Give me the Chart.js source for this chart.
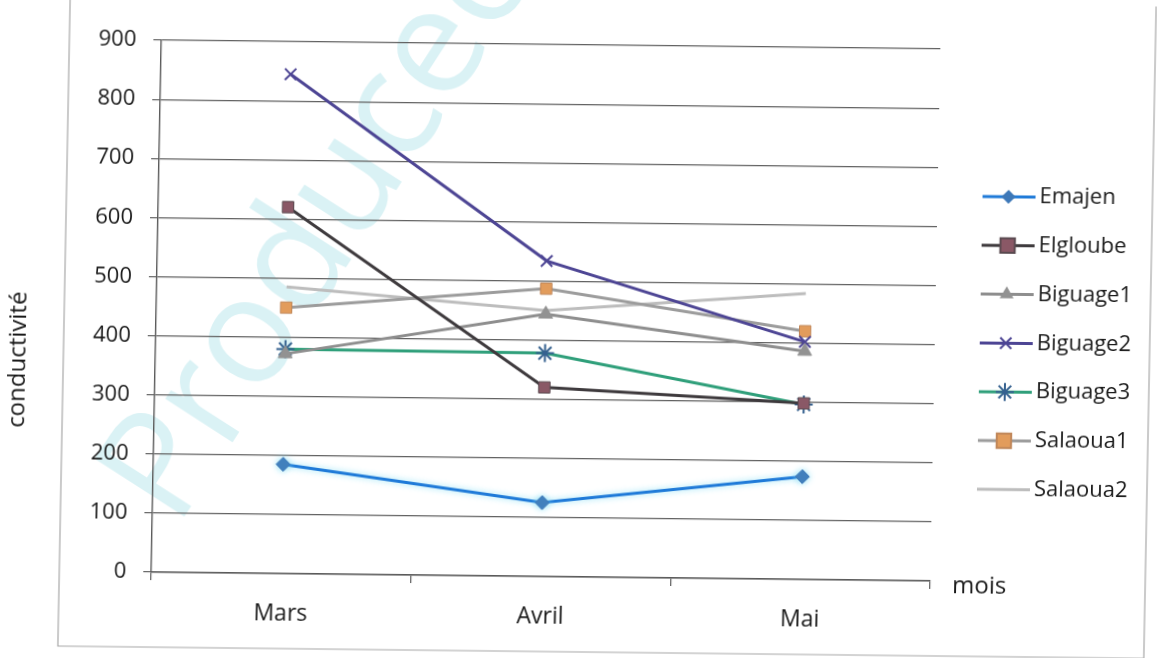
<!DOCTYPE html>
<html>
<head>
<meta charset="utf-8">
<script src="https://cdn.jsdelivr.net/npm/chart.js@4.4.1/dist/chart.umd.min.js"></script>
<style>
  html, body { margin: 0; padding: 0; background: #ffffff; overflow: hidden; }
  #wrap {
    width: 1157px; height: 658px;
    transform: matrix(1, 0.0113, -0.019, 1, 0, 0);
    transform-origin: 578px 329px;
  }
  canvas { display: block; }
</style>
</head>
<body>
<div id="wrap"><canvas id="c" width="1157" height="658"></canvas></div>
<script>
// Monthly conductivity readings per sampling station
const months   = ['Mars', 'Avril', 'Mai'];
const emajen   = [185, 125, 174];
const elgloube = [620, 320, 298];
const biguage1 = [372, 444, 386];
const biguage2 = [845, 534, 402];
const biguage3 = [380, 378, 296];
const salaoua1 = [450, 487, 420];
const salaoua2 = [485, 450, 484];
const yTicks   = [0, 100, 200, 300, 400, 500, 600, 700, 800, 900];

const FONT = "'Open Sans', 'DejaVu Sans', sans-serif";
const TEXT = '#1a1a1a';

const series = [
  { label: 'Emajen',   data: emajen,   line: '#1f7ad8', fill: '#3d78b8', edge: '#3d78b8', style: 'rectRot',  r: 7 },
  { label: 'Elgloube', data: elgloube, line: '#3e3a3d', fill: '#8a5866', edge: '#5a4a50', style: 'rect',     r: 8 },
  { label: 'Biguage1', data: biguage1, line: '#8e8e8e', fill: '#929292', edge: '#929292', style: 'triangle', r: 8 },
  { label: 'Biguage2', data: biguage2, line: '#4d4594', fill: '#4d4594', edge: '#4d4594', style: 'crossRot', r: 8 },
  { label: 'Biguage3', data: biguage3, line: '#2f9f7a', fill: '#4f8fd0', edge: '#35618f', style: 'star',     r: 9 },
  { label: 'Salaoua1', data: salaoua1, line: '#9c9c9c', fill: '#e29c5c', edge: '#c0875a', style: 'rect',     r: 8 },
  { label: 'Salaoua2', data: salaoua2, line: '#bdbdbd', fill: '#bdbdbd', edge: '#bdbdbd', style: false,      r: 0 }
];

// Marker shapes for the hand-drawn legend
function drawMarker(ctx, s, x, y) {
  const r = s.r;
  ctx.save();
  ctx.fillStyle = s.fill;
  ctx.strokeStyle = s.edge;
  ctx.lineWidth = 2;
  ctx.beginPath();
  if (s.style === 'rectRot') {
    ctx.moveTo(x, y - r); ctx.lineTo(x + r, y); ctx.lineTo(x, y + r); ctx.lineTo(x - r, y); ctx.closePath();
    ctx.fill();
  } else if (s.style === 'rect') {
    const h = r * 0.9;
    ctx.rect(x - h, y - h, 2 * h, 2 * h); ctx.fill(); ctx.stroke();
  } else if (s.style === 'triangle') {
    ctx.moveTo(x, y - r); ctx.lineTo(x + r * 0.87, y + r * 0.5); ctx.lineTo(x - r * 0.87, y + r * 0.5); ctx.closePath();
    ctx.fill();
  } else if (s.style === 'crossRot') {
    const d = r * 0.7;
    ctx.moveTo(x - d, y - d); ctx.lineTo(x + d, y + d); ctx.moveTo(x + d, y - d); ctx.lineTo(x - d, y + d);
    ctx.stroke();
  } else if (s.style === 'star') {
    const d = r * 0.7;
    ctx.moveTo(x, y - r); ctx.lineTo(x, y + r); ctx.moveTo(x - d, y - d); ctx.lineTo(x + d, y + d);
    ctx.moveTo(x + d, y - d); ctx.lineTo(x - d, y + d); ctx.moveTo(x - r, y); ctx.lineTo(x + r, y);
    ctx.stroke();
  }
  ctx.restore();
}

// Background mark, frame, axis captions and legend
const decorations = {
  id: 'decorations',
  beforeDraw(chart) {
    const ctx = chart.ctx;
    ctx.save();
    ctx.fillStyle = '#ffffff';
    ctx.fillRect(0, 0, chart.width, chart.height);
    // faint diagonal mark
    ctx.translate(322, 226);
    ctx.rotate(-58 * Math.PI / 180);
    ctx.font = `150px ${FONT}`;
    ctx.fillStyle = '#daf2f5';
    ctx.textAlign = 'center';
    ctx.textBaseline = 'middle';
    ctx.fillText('Produceo', 0, 0);
    ctx.restore();

    // chart frame
    ctx.save();
    ctx.strokeStyle = '#a8a8a8';
    ctx.lineWidth = 1.2;
    ctx.beginPath();
    ctx.moveTo(64, -10); ctx.lineTo(64, 652); ctx.lineTo(1150, 652); ctx.lineTo(1150, -10);
    ctx.stroke();
    ctx.restore();
  },
  beforeDatasetDraw(chart, args) {
    // soft halo around the Emajen line
    if (args.index === 0) {
      chart.ctx.save();
      chart.ctx.shadowColor = 'rgba(120, 220, 245, 0.8)';
      chart.ctx.shadowBlur = 6;
    }
  },
  afterDatasetDraw(chart, args) {
    if (args.index === 0) chart.ctx.restore();
  },
  afterDraw(chart) {
    const ctx = chart.ctx;
    ctx.save();
    ctx.fillStyle = TEXT;
    ctx.font = `24px ${FONT}`;
    ctx.textBaseline = 'middle';
    // x axis caption
    ctx.textAlign = 'left';
    ctx.fillText('mois', 957, 582);
    // y axis caption
    ctx.save();
    ctx.translate(19, 366);
    ctx.rotate(-Math.PI / 2);
    ctx.textAlign = 'center';
    ctx.fillText('conductivité', 0, 0);
    ctx.restore();

    // legend
    const top = 192, step = 48.8;
    series.forEach((s, i) => {
      const y = top + i * step;
      ctx.save();
      ctx.strokeStyle = s.line;
      ctx.lineWidth = 3;
      ctx.beginPath();
      ctx.moveTo(980, y); ctx.lineTo(1033, y);
      ctx.stroke();
      ctx.restore();
      if (s.style) drawMarker(ctx, s, 1006, y);
      ctx.fillStyle = TEXT;
      ctx.font = `22px ${FONT}`;
      ctx.textAlign = 'left';
      ctx.fillText(s.label, 1037, y);
    });
    ctx.restore();
  }
};

const datasets = series.map(s => ({
  label: s.label,
  data: s.data,
  borderColor: s.line,
  backgroundColor: s.fill,
  borderWidth: 3,
  pointStyle: s.style,
  pointRadius: s.r,
  pointHoverRadius: s.r,
  pointBackgroundColor: s.fill,
  pointBorderColor: s.edge,
  pointBorderWidth: (s.style === 'crossRot' || s.style === 'star') ? 2 : 1,
  tension: 0
}));

new Chart(document.getElementById('c'), {
  type: 'line',
  data: { labels: months, datasets },
  options: {
    responsive: false,
    animation: false,
    events: [],
    layout: { padding: { left: 0, top: 45, right: 222, bottom: 0 } },
    plugins: { legend: { display: false }, tooltip: { enabled: false } },
    scales: {
      x: {
        type: 'category',
        offset: true,
        afterFit: (scale) => { scale.height = 81; },
        grid: { offset: true, drawOnChartArea: false, drawTicks: true, tickLength: 8, color: '#5a5a5a', lineWidth: 1.2 },
        border: { display: true, color: '#5a5a5a', width: 1.4 },
        ticks: { color: TEXT, font: { family: FONT, size: 23 }, padding: 19 }
      },
      y: {
        min: 0,
        max: 900,
        afterFit: (scale) => { scale.width = 156; },
        afterBuildTicks: (scale) => { scale.ticks = yTicks.map(v => ({ value: v })); },
        grid: { color: '#626262', lineWidth: 1.2, drawTicks: true, tickLength: 8 },
        border: { display: true, color: '#5a5a5a', width: 1.4 },
        ticks: { color: TEXT, font: { family: FONT, size: 22 }, padding: 17 }
      }
    }
  },
  plugins: [decorations]
});
</script>
</body>
</html>
